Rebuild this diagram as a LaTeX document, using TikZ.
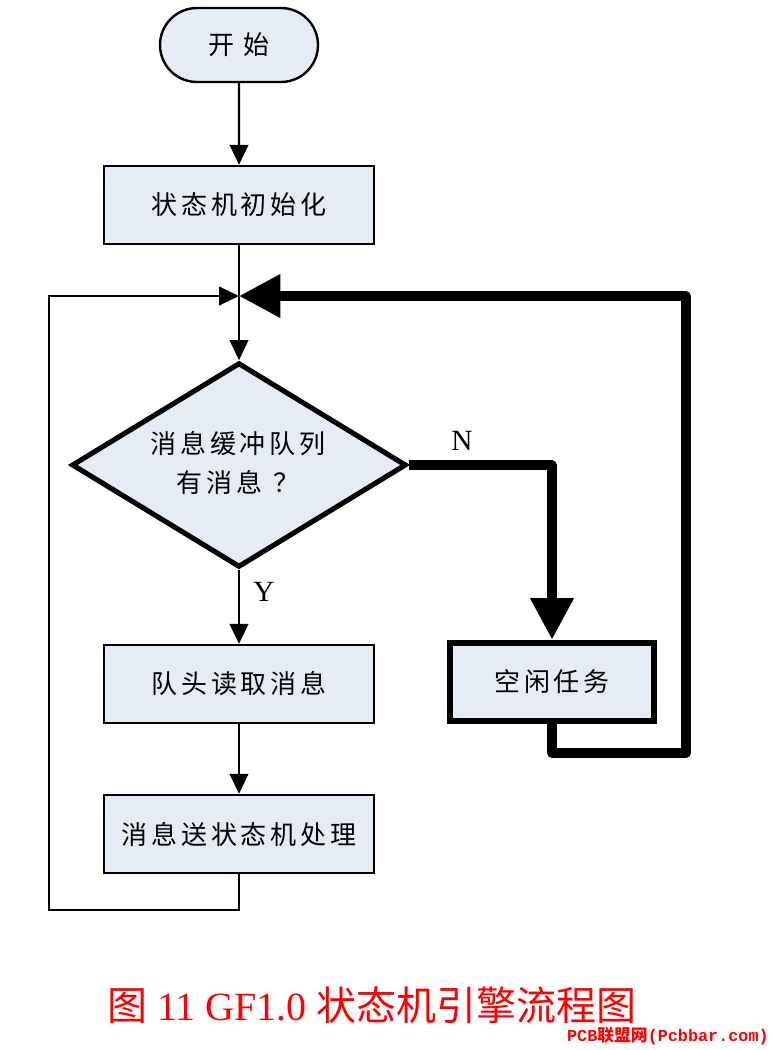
\documentclass[tikz,border=0pt]{standalone}
\usepackage{fontspec}
\setmainfont{Liberation Serif}
\newfontfamily\cjk[LetterSpace=15]{Noto Sans CJK SC}
\newfontfamily\cjkcap{Noto Sans CJK SC}
\newfontfamily\wmono{Liberation Mono}
\usetikzlibrary{arrows.meta,shapes.geometric,shapes.misc}
\definecolor{boxfill}{RGB}{229,236,246}
\begin{document}
\begin{tikzpicture}[x=0.75pt,y=-0.75pt,
  thinln/.style={line width=1.6pt,draw=black},
  thinarr/.style={thinln,-{Triangle[length=15pt,width=14pt]}},
  thickln/.style={line width=6.8pt,draw=black,line join=round},
  thickarr/.style={thickln,-{Triangle[length=31pt,width=31pt]}},
  procbox/.style={rectangle,draw=black,line width=1.8pt,fill=boxfill,minimum width=202.5pt,minimum height=58.5pt,inner sep=0pt,font=\cjk\fontsize{19.5}{24}\selectfont},
  idlebox/.style={rectangle,draw=black,line width=5.2pt,fill=boxfill,minimum width=153pt,minimum height=58.5pt,inner sep=0pt,font=\cjk\fontsize{19.5}{24}\selectfont},
  termbox/.style={rounded rectangle,draw=black,line width=1.8pt,fill=boxfill,minimum width=118.5pt,minimum height=55.5pt,inner sep=0pt,font=\cjk\fontsize{19.5}{24}\selectfont},
  decbox/.style={diamond,draw=black,line width=3.8pt,fill=boxfill,minimum width=251pt,minimum height=153.5pt,inner sep=0pt},
  dectext/.style={align=center,inner sep=0pt,font=\cjk\fontsize{19.5}{29}\selectfont},
  lbl/.style={inner sep=0pt,font=\fontsize{22}{24}\selectfont}
]
\useasboundingbox (0,0) rectangle (772,1050);
\fill[white] (0,0) rectangle (772,1050);

\node[termbox] (start) at (239,45) {开 始};
\node[procbox] (init) at (239,205) {状态机初始化};
\coordinate (J) at (239,296);
\node[decbox] (dec) at (239,465) {};
\node[dectext] (dectxt) at (238,463) {消息缓冲队列\\有消息\hspace{0.45em}？};
\node[procbox] (read) at (239,684) {队头读取消息};
\node[procbox] (proc) at (239,834) {消息送状态机处理};
\node[idlebox] (idle) at (552,682) {空闲任务};

\coordinate (L1) at (239,910);
\coordinate (L2) at (49,910);
\coordinate (L3) at (49,296);
\coordinate (R0) at (552,465);
\coordinate (R1) at (552,753);
\coordinate (R2) at (686,753);
\coordinate (R3) at (686,296);

\node[lbl] (N) at (462,441) {N};
\node[lbl] (Y) at (264,592) {Y};

% thin connectors
\draw[thinarr] (start) -- (init);
\draw[thinln] (init.south) -- (J);
\draw[thinarr] (J) -- (dec.north);
\draw[thinarr] (dec.south) -- (read.north);
\draw[thinarr] (read) -- (proc);
\draw[thinln] (proc.south) -- (L1) -- (L2) -- (L3) -- (219,296);
\draw[thinarr] (L3) -- (J);

% thick connectors
\draw[thickarr] (dec.east) -- (R0) -- (idle.north);
\draw[thickarr] (idle.south) -- (R1) -- (R2) -- (R3) -- (J);

% caption
\node[text=red,inner sep=0pt,font=\fontsize{30}{34}\selectfont] (cap) at (372,1005) {{\cjkcap 图} 11 GF1.0 {\cjkcap 状态机引擎流程图}};
\node[text=red,inner sep=0pt,anchor=east,font=\fontsize{12.6}{14}\selectfont\bfseries] (wm) at (769,1036) {\wmono PCB{\cjkcap 联盟网}(Pcbbar.com)};
\end{tikzpicture}
\end{document}
